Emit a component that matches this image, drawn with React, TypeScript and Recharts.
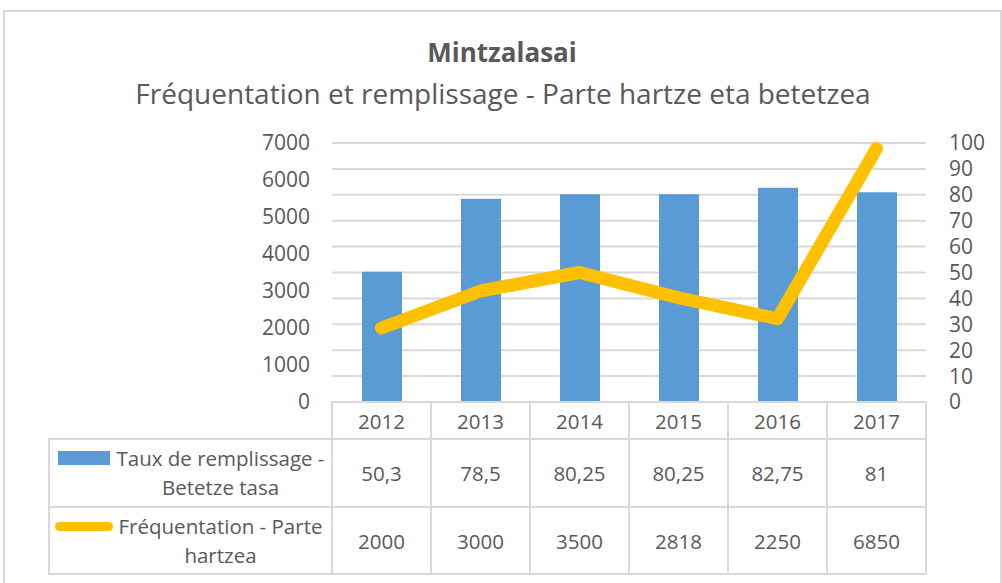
import React from 'react';
import { ComposedChart, Bar, Line, XAxis, YAxis, CartesianGrid } from 'recharts';

const years = ['2012', '2013', '2014', '2015', '2016', '2017'];
const remplissage = [50.3, 78.5, 80.25, 80.25, 82.75, 81];
const frequentation = [2000, 3000, 3500, 2818, 2250, 6850];
const leftTicks = [0, 1000, 2000, 3000, 4000, 5000, 6000, 7000];
const rightTicks = [0, 10, 20, 30, 40, 50, 60, 70, 80, 90, 100];

const seriesNames = ['Taux de remplissage - Betetze tasa', 'Fréquentation - Parte hartzea'];

const data = years.map((year, i) => ({
  year,
  remplissage: remplissage[i],
  frequentation: frequentation[i],
}));

const BLUE = '#5B9BD5';
const YELLOW = '#FFC000';
const GRID = '#d9d9d9';
const TEXT = '#595959';
const FONT = '"Open Sans", sans-serif';

const fmt = (v: number) => String(v).replace('.', ',');

const cellBorder = `2px solid ${GRID}`;

function DataTable() {
  const rows = [
    { name: seriesNames[0], values: remplissage, key: 'bar' },
    { name: seriesNames[1], values: frequentation, key: 'line' },
  ];
  const rowHeights = [68, 67];
  return (
    <table
      style={{
        position: 'absolute',
        left: 48,
        top: 401,
        borderCollapse: 'collapse',
        tableLayout: 'fixed',
        fontFamily: FONT,
        fontSize: 20.5,
        color: TEXT,
      }}
    >
      <colgroup>
        <col style={{ width: 283 }} />
        {years.map((y) => (
          <col key={y} style={{ width: 99 }} />
        ))}
      </colgroup>
      <tbody>
        <tr style={{ height: 37 }}>
          <td style={{ border: 'none', padding: 0 }} />
          {years.map((y) => (
            <td key={y} style={{ border: cellBorder, textAlign: 'center', padding: 0 }}>
              {y}
            </td>
          ))}
        </tr>
        {rows.map((r, ri) => (
          <tr key={r.key} style={{ height: rowHeights[ri] }}>
            <td style={{ border: cellBorder, padding: 0, position: 'relative' }}>
              {r.key === 'bar' ? (
                <div
                  style={{ position: 'absolute', left: 8, top: 11, width: 52, height: 14, background: BLUE }}
                />
              ) : (
                <div
                  style={{
                    position: 'absolute',
                    left: 5,
                    top: 14,
                    width: 58,
                    height: 9,
                    borderRadius: 5,
                    background: YELLOW,
                  }}
                />
              )}
              <div style={{ marginLeft: 60, textAlign: 'center', lineHeight: '29px' }}>{r.name}</div>
            </td>
            {r.values.map((v, i) => (
              <td key={i} style={{ border: cellBorder, textAlign: 'center', padding: 0 }}>
                {fmt(v)}
              </td>
            ))}
          </tr>
        ))}
      </tbody>
    </table>
  );
}

export default function App() {
  const tick = { fill: TEXT, fontSize: 21, fontFamily: FONT };
  return (
    <div
      style={{
        position: 'absolute',
        left: 0,
        top: 0,
        width: 1002,
        height: 583,
        overflow: 'hidden',
        background: '#fff',
        fontFamily: FONT,
      }}
    >
      <div
        style={{
          position: 'absolute',
          left: 3,
          top: 10,
          width: 999,
          height: 600,
          border: cellBorder,
          boxSizing: 'border-box',
        }}
      />
      <div
        style={{
          position: 'absolute',
          left: 0,
          width: 1004,
          top: 33,
          textAlign: 'center',
          fontSize: 26,
          fontWeight: 700,
          color: TEXT,
          lineHeight: '38px',
        }}
      >
        Mintzalasai
      </div>
      <div
        style={{
          position: 'absolute',
          left: 0,
          width: 1006,
          top: 73,
          textAlign: 'center',
          fontSize: 28,
          color: TEXT,
          lineHeight: '40px',
        }}
      >
        Fréquentation et remplissage - Parte hartze eta betetzea
      </div>
      <div style={{ position: 'absolute', left: 0, top: 0 }}>
        <ComposedChart
          width={1002}
          height={583}
          data={data}
          margin={{ top: 143, right: 0, bottom: 181, left: 0 }}
        >
          <CartesianGrid
            yAxisId="right"
            vertical={false}
            stroke={GRID}
            strokeWidth={2}
          />
          <XAxis dataKey="year" hide />
          <YAxis
            yAxisId="left"
            orientation="left"
            width={332}
            domain={[0, 7000]}
            ticks={leftTicks}
            interval={0}
            axisLine={false}
            tickLine={false}
            tickSize={0}
            tickMargin={22}
            tick={tick}
          />
          <YAxis
            yAxisId="right"
            orientation="right"
            width={76}
            domain={[0, 100]}
            ticks={rightTicks}
            interval={0}
            axisLine={false}
            tickLine={false}
            tickSize={0}
            tickMargin={23}
            tick={tick}
          />
          <Bar
            yAxisId="right"
            dataKey="remplissage"
            fill={BLUE}
            barSize={40}
            isAnimationActive={false}
          />
          <Line
            yAxisId="left"
            type="linear"
            dataKey="frequentation"
            stroke={YELLOW}
            strokeWidth={13}
            strokeLinecap="round"
            strokeLinejoin="round"
            dot={false}
            activeDot={false}
            isAnimationActive={false}
          />
        </ComposedChart>
      </div>
      <DataTable />
    </div>
  );
}
